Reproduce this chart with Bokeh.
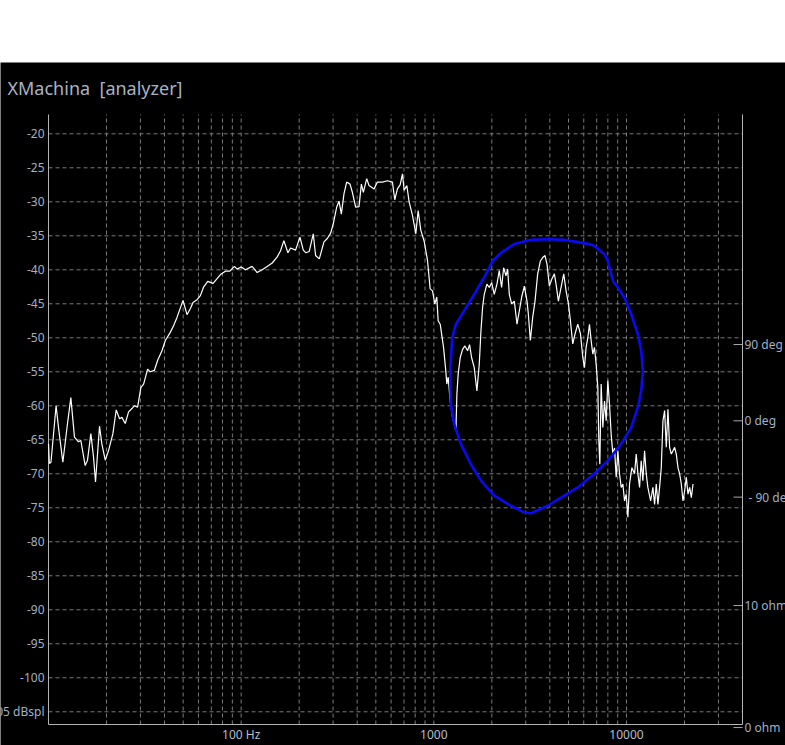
import math
from bokeh.plotting import figure
from bokeh.models import Range1d, Spacer
from bokeh.layouts import column
from bokeh.core.properties import value
from bokeh.embed import file_html
from bokeh.resources import INLINE

# ---------------- data ----------------
spl_freq = [10, 10.1, 10.3, 10.95, 11.26, 11.87, 12.55, 13.06, 13.64, 14.31, 14.72,
            15.5, 15.94, 16.59, 17.12, 17.54, 18.4, 18.92, 19.7, 20.49, 21.59, 22.46,
            23.38, 24.04, 25.02, 26.04, 27.1, 27.87, 29.0, 30.18, 31.17, 32.69, 33.75,
            35.41, 36.86, 38.82, 40.4, 42.88, 44.63, 46.45, 49.9, 52.36, 54.5, 56.27,
            59.02, 61.42, 63.92, 67.06, 71.48, 74.99, 78.05, 82.87, 87.29, 92.3, 95.28,
            99.96, 105.3, 114.0, 121.1, 128.5, 136.5, 144.9, 153.9, 160.1, 166.6, 174.8,
            180.5, 191.6, 201.8, 210.1, 216.8, 225.6, 236.7, 243.4, 254.4, 269.0, 280.0,
            291.4, 300.8, 313.1, 322.0, 331.1, 341.8, 352.9, 367.3, 377.7, 393.0, 408.9,
            420.6, 430.8, 448.3, 461.0, 489.5, 509.4, 541.0, 574.3, 609.7, 627.0, 647.4,
            668.4, 687.4, 701.2, 724.0, 744.5, 774.8, 806.3, 829.1, 856.1, 890.9, 927.1,
            957.1, 984.2, 1012, 1036, 1053, 1079, 1123, 1154, 1168, 1187, 1216, 1251,
            1276, 1302, 1317, 1338, 1371, 1410, 1450, 1497, 1533, 1570, 1621, 1673, 1721,
            1756, 1791, 1827, 1886, 1940, 1995, 2059, 2126, 2186, 2248, 2303, 2368, 2416,
            2464, 2534, 2617, 2702, 2779, 2858, 2950, 3045, 3094, 3169, 3259, 3351, 3460,
            3572, 3673, 3777, 3869, 3978, 4091, 4224, 4309, 4431, 4575, 4723, 4858, 4995,
            5116, 5261, 5410, 5586, 5768, 5932, 6050, 6172, 6297, 6424, 6553, 6686, 6821,
            6958, 7099, 7184, 7271, 7387, 7536, 7689, 7843, 8001, 8163, 8326, 8494, 8666,
            8840, 9018, 9200, 9385, 9575, 9768, 9964, 10165, 10370, 10664, 11010, 11230,
            11460, 11690, 11920, 12160, 12410, 12660, 12910, 13340, 13710, 13990, 14270,
            14560, 14850, 15150, 15460, 15770, 16090, 16410, 16740, 17080, 17430, 17780,
            18130, 18500, 18870, 19250, 19640, 20040, 20440, 20850, 21270, 21700, 22140]
spl_db = [-65.6, -68.5, -68.3, -60.0, -63.1, -68.3, -62.6, -58.8, -64.6, -65.3, -65.1,
          -68.8, -68.0, -64.1, -67.5, -71.2, -63.0, -65.6, -68.0, -66.6, -64.1, -60.6,
          -61.9, -61.7, -62.6, -60.9, -60.4, -60.0, -60.2, -57.3, -56.8, -54.6, -55.0,
          -54.8, -53.3, -51.9, -50.4, -49.2, -48.2, -47.0, -44.5, -46.6, -45.7, -44.8,
          -44.4, -43.8, -42.5, -41.7, -42.0, -41.3, -40.7, -40.2, -40.2, -39.5, -39.9,
          -39.6, -40.0, -39.5, -40.4, -40.0, -39.5, -39.0, -38.1, -37.2, -35.7, -37.5,
          -36.8, -37.1, -35.2, -37.1, -37.5, -37.3, -34.7, -37.9, -38.4, -35.9, -35.4,
          -34.6, -33.2, -30.8, -29.9, -31.8, -28.8, -27.1, -27.4, -28.6, -30.8, -30.7,
          -27.4, -28.6, -26.6, -27.6, -28.1, -27.1, -27.1, -26.9, -27.1, -29.7, -28.1,
          -27.5, -25.9, -28.3, -27.6, -30.0, -32.0, -34.7, -31.3, -34.2, -35.8, -38.6,
          -42.8, -43.1, -45.0, -44.0, -47.5, -48.0, -51.4, -54.9, -56.8, -55.8, -59.3, -61.7,
          -62.7, -63.7, -58.3, -55.3, -52.9, -51.7, -51.2, -51.9, -51.0, -52.9, -54.4, -57.8, -53.9,
          -49.0, -45.5, -43.6, -42.1, -42.6, -41.9, -43.6, -42.1, -40.1, -42.6, -39.7, -40.9, -39.9,
          -43.6, -45.0, -44.6, -48.0, -46.0, -44.0, -42.4, -44.6, -46.5, -50.4, -47.0, -44.6, -40.6,
          -38.7, -38.2, -37.9, -39.2, -42.4, -41.4, -40.6, -42.1, -44.6, -42.6, -40.6, -43.1, -45.0,
          -47.5, -50.9, -49.4, -48.0, -49.4, -52.9, -54.4, -51.4, -50.0, -48.0, -50.4, -52.4, -51.4,
          -53.9, -57.3, -65.1, -68.6, -56.8, -63.2, -59.3, -62.2, -56.3, -59.8, -64.2, -67.1, -66.2,
          -70.5, -66.6, -70.0, -72.0, -71.5, -74.0, -73.0, -76.4, -71.5, -69.1, -70.0, -67.1,
          -70.0, -72.0, -68.1, -71.0, -66.6, -70.0, -72.0, -74.0, -72.0, -74.5, -71.5,
          -74.5, -72.0, -69.1, -62.2, -60.7, -66.1, -60.5, -66.1, -67.1, -66.6, -66.1,
          -67.1, -69.1, -70.0, -71.5, -74.0, -72.5, -70.5, -73.0, -72.0, -73.5, -71.5]

loop_freq = [6821, 7689, 8001, 8326, 8494, 9018, 9768, 10578, 11460, 11920, 12160, 11920,
             11460, 10578, 9385, 8001, 6821, 5586, 4575, 3901, 3194, 2950, 2514, 2059, 1756,
             1557, 1381, 1276, 1226, 1216, 1245, 1302, 1438, 1621, 1827, 2019, 2230, 2617,
             3194, 3901, 4761, 5813, 6553, 6821]
loop_db = [-36.5, -37.7, -38.7, -40.6, -41.6, -42.6, -44.1, -46.5, -49.5, -51.9, -54.9, -57.8,
           -60.2, -63.2, -65.6, -68.1, -70.0, -72.0, -73.5, -74.7, -75.8, -75.7, -74.7, -73.2,
           -71.0, -68.6, -65.6, -62.7, -59.8, -54.9, -50.0, -48.0, -46.0, -43.6, -41.1, -38.7,
           -37.5, -36.2, -35.6, -35.5, -35.6, -36.0, -36.3, -36.5]

y_ticks = [-20, -25, -30, -35, -40, -45, -50, -55, -60, -65, -70, -75, -80, -85, -90, -95, -100, -105]
y_tick_labels = ["-20", "-25", "-30", "-35", "-40", "-45", "-50", "-55", "-60", "-65", "-70",
                 "-75", "-80", "-85", "-90", "-95", "-100", "-105 dBspl"]
x_grid = [20, 30, 40, 50, 60, 70, 80, 90, 100, 200, 300, 400, 500, 600, 700, 800, 900,
          1000, 2000, 3000, 4000, 5000, 6000, 7000, 8000, 9000, 10000, 20000, 30000]
x_tick_vals = [100, 1000, 10000]
x_tick_labels = ["100 Hz", "1000", "10000"]
deg_ticks = [90, 0, -90]
deg_labels = ["90 deg", "0 deg", "- 90 deg"]
ohm_ticks = [10, 0]
ohm_labels = ["10 ohm", "0 ohm"]
title_text = "XMachina\u00a0 [analyzer]"

# ---------------- layout constants ----------------
FIG_W, FIG_H, TOP_SPACE = 785, 683, 62
PL, PR, PT, PB = 48, 742, 52, 662          # plot box inside the figure (px)
F_MIN, F_MAX = 10, 40000                   # frequency axis limits
DB_TOP, DB_BOT = -17.16, -106.87           # dB axis limits
DEG_LO, DEG_HI = -358.2, 361.3             # phase scale over the plot box
OHM_LO, OHM_HI = 0.25, 50.25               # impedance scale over the plot box

dec_per_px = (math.log10(F_MAX) - math.log10(F_MIN)) / (PR - PL)
db_per_px = (DB_TOP - DB_BOT) / (PB - PT)
x_lo = 10 ** (math.log10(F_MIN) - PL * dec_per_px)
x_hi = 10 ** (math.log10(F_MAX) + (FIG_W - PR) * dec_per_px)
y_hi = DB_TOP + PT * db_per_px
y_lo = DB_BOT - (FIG_H - PB) * db_per_px


def deg_to_db(v):
    return DB_BOT + (v - DEG_LO) / (DEG_HI - DEG_LO) * (DB_TOP - DB_BOT)


def ohm_to_db(v):
    return DB_BOT + (v - OHM_LO) / (OHM_HI - OHM_LO) * (DB_TOP - DB_BOT)


FONT = "Noto Sans"
LBL = "#9fb1c9"
GRID = "#7a7a7a"
AX = "#b4b4b4"

p = figure(width=FIG_W, height=FIG_H, x_axis_type="log",
           x_range=Range1d(x_lo, x_hi), y_range=Range1d(y_lo, y_hi),
           x_axis_location=None, y_axis_location=None,
           output_backend="svg", toolbar_location=None,
           min_border_left=0, min_border_right=0, min_border_top=0, min_border_bottom=0,
           background_fill_color="black", border_fill_color="black",
           outline_line_color=None)
p.grid.visible = False

# grid lines
ny = len(y_ticks)
p.segment(x0=[F_MIN] * ny, x1=[F_MAX] * ny, y0=y_ticks, y1=y_ticks,
          line_color=GRID, line_dash="4 3", line_width=1)
nx = len(x_grid)
p.segment(x0=x_grid, x1=x_grid, y0=[DB_BOT] * nx, y1=[DB_TOP] * nx,
          line_color=GRID, line_dash="4 3", line_width=1)

# axis lines
p.segment(x0=[F_MIN, F_MIN, F_MAX], x1=[F_MIN, F_MAX, F_MAX],
          y0=[DB_BOT, DB_BOT, DB_BOT], y1=[DB_TOP, DB_BOT, DB_TOP],
          line_color=AX, line_width=1)

# right-hand ticks (phase and impedance), drawn inward
r_ticks_db = [deg_to_db(v) for v in deg_ticks] + [ohm_to_db(v) for v in ohm_ticks]
x_tick_in = F_MAX / 10 ** (9 * dec_per_px)
nr = len(r_ticks_db)
p.segment(x0=[x_tick_in] * nr, x1=[F_MAX] * nr, y0=r_ticks_db, y1=r_ticks_db,
          line_color="#a8a8a8", line_width=1)

# curves
p.line(spl_freq, spl_db, line_color="white", line_width=1.2)
p.line(loop_freq, loop_db, line_color="#0a0af0", line_width=2.6)

# texts
txt = dict(text_font=value(FONT), text_font_size="12px", text_baseline="middle")
p.text(x=[F_MIN] * ny, y=y_ticks, text=y_tick_labels, x_offset=-4,
       text_align="right", text_color=LBL, **txt)
p.text(x=x_tick_vals, y=[DB_BOT] * len(x_tick_vals), text=x_tick_labels, y_offset=10,
       text_align="center", text_color="#b6bdc9", **txt)
p.text(x=[F_MAX] * len(deg_ticks), y=[deg_to_db(v) for v in deg_ticks], text=deg_labels,
       x_offset=[6 if t.startswith("-") else 2 for t in deg_labels],
       text_align="left", text_color=LBL, **txt)
p.text(x=[F_MAX] * len(ohm_ticks), y=[ohm_to_db(v) for v in ohm_ticks], text=ohm_labels,
       x_offset=2, text_align="left", text_color=LBL, **txt)
p.text(x=[F_MIN], y=[DB_TOP], text=[title_text], x_offset=-41, y_offset=-27,
       text_align="left", text_baseline="middle", text_color="#a9b3c3",
       text_font=value(FONT), text_font_size="18px")

layout = column(Spacer(width=FIG_W, height=TOP_SPACE), p)
open("out.html", "w").write(file_html(layout, INLINE))
